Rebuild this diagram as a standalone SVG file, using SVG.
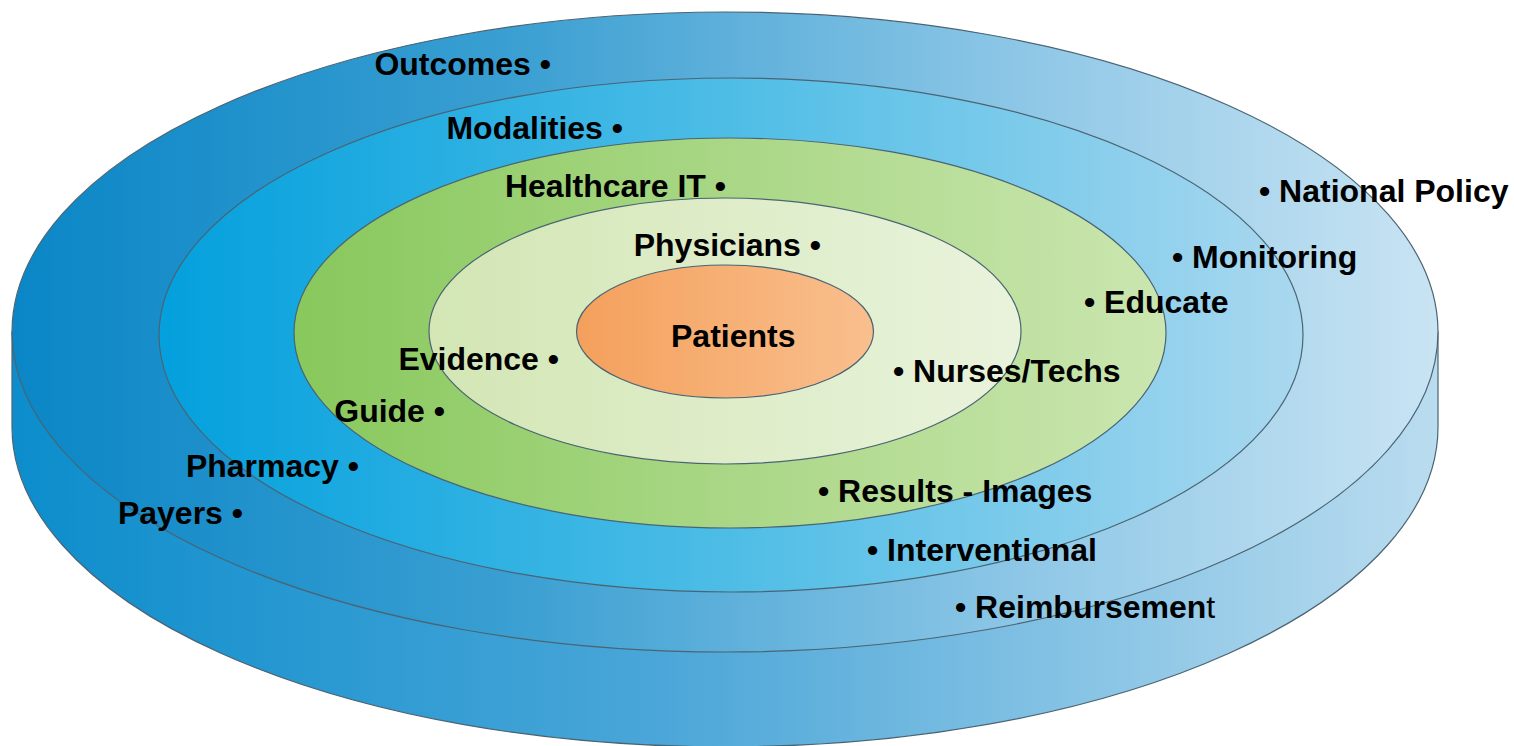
<svg xmlns="http://www.w3.org/2000/svg" width="1514" height="746" viewBox="0 0 1514 746">
  <defs>
    <linearGradient id="gSide" x1="0" y1="0" x2="1" y2="0">
      <stop offset="0" stop-color="#0c8dcc"/>
      <stop offset="0.45" stop-color="#4aa6d8"/>
      <stop offset="1" stop-color="#badcef"/>
    </linearGradient>
    <linearGradient id="gOuter" x1="0" y1="0" x2="1" y2="0">
      <stop offset="0" stop-color="#0a86c6"/>
      <stop offset="0.35" stop-color="#3a9fd2"/>
      <stop offset="0.7" stop-color="#8cc6e6"/>
      <stop offset="1" stop-color="#c9e4f3"/>
    </linearGradient>
    <linearGradient id="gRing2" x1="0" y1="0" x2="1" y2="0">
      <stop offset="0" stop-color="#03a0dd"/>
      <stop offset="0.5" stop-color="#4ebde6"/>
      <stop offset="1" stop-color="#aad8ef"/>
    </linearGradient>
    <linearGradient id="gGreen" x1="0" y1="0" x2="1" y2="0">
      <stop offset="0" stop-color="#88c85c"/>
      <stop offset="1" stop-color="#cbe6b0"/>
    </linearGradient>
    <linearGradient id="gLight" x1="0" y1="0" x2="1" y2="0">
      <stop offset="0" stop-color="#d3e6b4"/>
      <stop offset="1" stop-color="#e9f3dc"/>
    </linearGradient>
    <linearGradient id="gOrange" x1="0" y1="0" x2="1" y2="0">
      <stop offset="0" stop-color="#f4a05c"/>
      <stop offset="1" stop-color="#f9bf8e"/>
    </linearGradient>
  </defs>
  <style>
    .edge { stroke: #4a6473; stroke-width: 1.2; }
    .lbl { font-family: "Liberation Sans", Arial, sans-serif; font-weight: bold; font-size: 32px; fill: #000; }
    .thin { font-weight: normal; }
  </style>

  <g id="disk-side">
    <path class="edge" fill="url(#gSide)" d="M12,332 L12,427 A713,320 0 0 0 1438,427 L1438,332 Z"/>
  </g>
  <g id="ring-outer">
    <ellipse class="edge" fill="url(#gOuter)" cx="725" cy="332" rx="713" ry="320"/>
  </g>
  <g id="ring-modalities">
    <ellipse class="edge" fill="url(#gRing2)" cx="731" cy="335" rx="572" ry="257"/>
  </g>
  <g id="ring-green">
    <ellipse class="edge" fill="url(#gGreen)" cx="730" cy="333" rx="436" ry="195"/>
  </g>
  <g id="ring-light">
    <ellipse class="edge" fill="url(#gLight)" cx="725" cy="331" rx="296" ry="133"/>
  </g>
  <g id="core-patients">
    <ellipse class="edge" fill="url(#gOrange)" cx="725" cy="331.5" rx="148.5" ry="66.5"/>
    <text class="lbl" x="671" y="347">Patients</text>
  </g>

  <g id="labels">
    <text class="lbl" x="551" y="75" text-anchor="end">Outcomes •</text>
    <text class="lbl" x="623" y="139" text-anchor="end">Modalities •</text>
    <text class="lbl" x="726" y="197" text-anchor="end">Healthcare IT •</text>
    <text class="lbl" x="821" y="256" text-anchor="end">Physicians •</text>
    <text class="lbl" x="559" y="370" text-anchor="end">Evidence •</text>
    <text class="lbl" x="445" y="422" text-anchor="end">Guide •</text>
    <text class="lbl" x="359" y="477" text-anchor="end">Pharmacy •</text>
    <text class="lbl" x="243" y="524" text-anchor="end">Payers •</text>
    <text class="lbl" x="1259" y="202">• National Policy</text>
    <text class="lbl" x="1172" y="268">• Monitoring</text>
    <text class="lbl" x="1084" y="313">• Educate</text>
    <text class="lbl" x="893" y="382">• Nurses/Techs</text>
    <text class="lbl" x="818" y="502">• Results - Images</text>
    <text class="lbl" x="867" y="561">• Interventional</text>
    <text class="lbl" x="955" y="618">• Reimbursemen<tspan class="thin">t</tspan></text>
  </g>
</svg>
